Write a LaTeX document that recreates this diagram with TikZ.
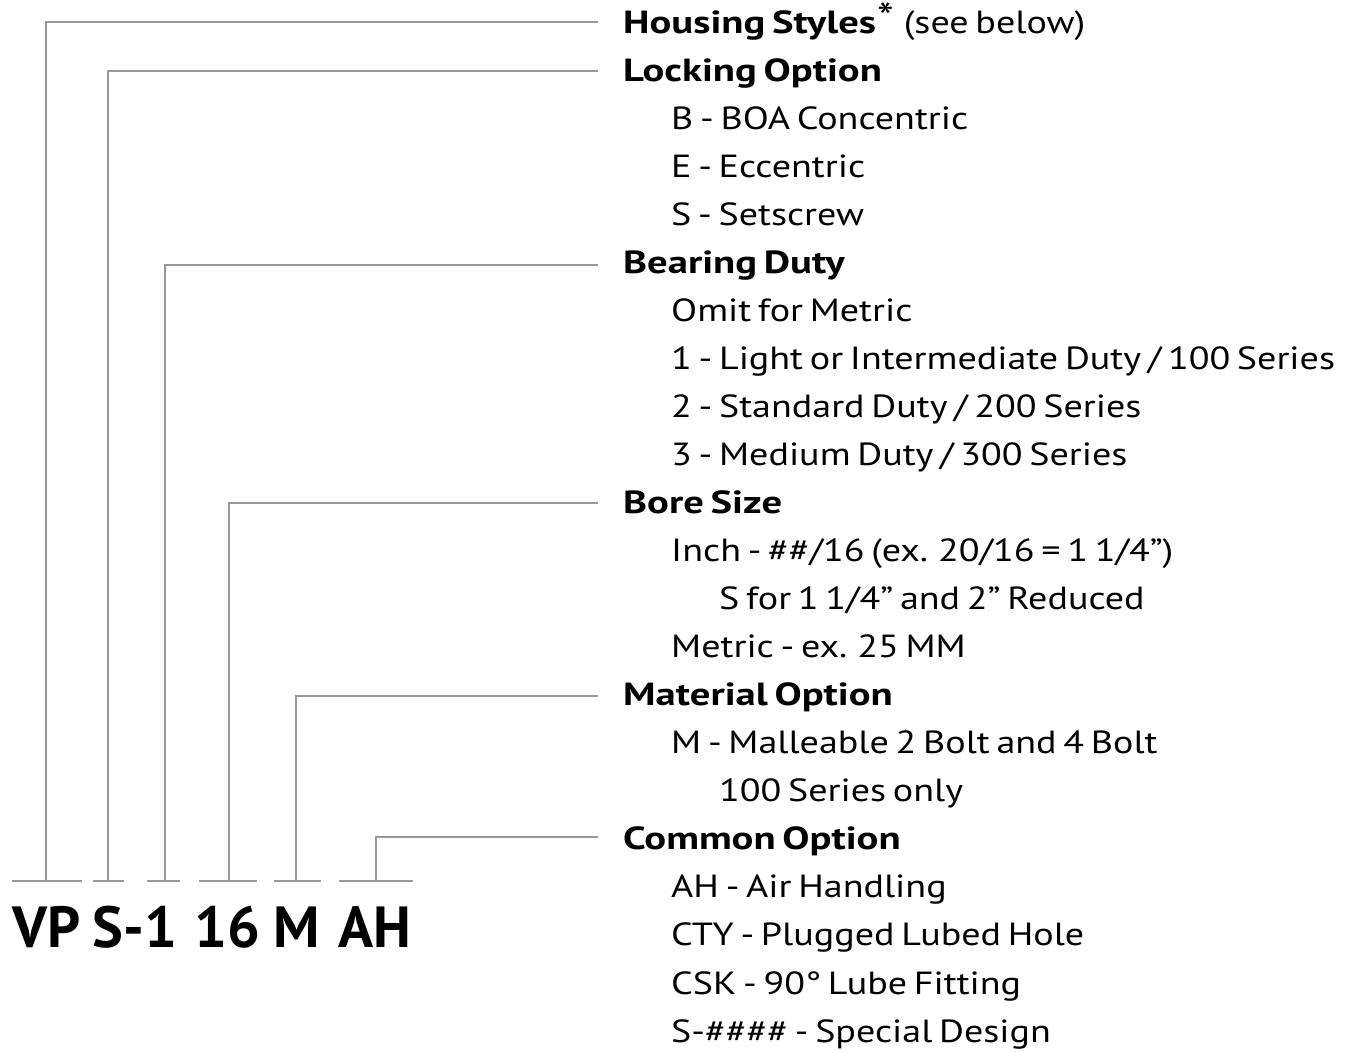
\documentclass[tikz,border=0pt]{standalone}
\usepackage{fontspec}
\setmainfont{PT Sans}[FakeStretch=1.19, WordSpace=0.66,
  BoldFeatures={FakeStretch=1.27, WordSpace=0.66}]
\newfontfamily\codefont{PT Sans}
\begin{document}
\begin{tikzpicture}[x=1pt,y=-1pt,
  conn/.style={draw=black!40, line width=2pt},
  head/.style={anchor=base west, inner sep=0pt, font=\fontsize{32}{36}\selectfont\bfseries},
  item/.style={anchor=base west, inner sep=0pt, font=\fontsize{32}{36}\selectfont},
  code/.style={anchor=base, inner sep=0pt, font=\codefont\fontsize{58}{60}\selectfont\bfseries}]
\useasboundingbox (0,0) rectangle (1351,1052);
\def\bl#1{33+48.05*#1}
% text lines
\node[head] (h1) at (623,{\bl{0}}) {Housing Styles\hspace{1pt}\raisebox{0.05em}{\fontsize{40}{40}\selectfont\mdseries *}\hspace{10pt}\mdseries(see below)};
\node[head] (h2) at (623,{\bl{1}}) {Locking Option};
\node[item] (t2) at (671,{\bl{2}}) {B - BOA Concentric};
\node[item] (t3) at (671,{\bl{3}}) {E - Eccentric};
\node[item] (t4) at (671,{\bl{4}}) {S - Setscrew};
\node[head] (h3) at (623,{\bl{5}}) {Bearing Duty};
\node[item] (t6) at (671,{\bl{6}}) {Omit for Metric};
\node[item] (t7) at (671,{\bl{7}}) {1 - Light or Intermediate Duty / 100 Series};
\node[item] (t8) at (671,{\bl{8}}) {2 - Standard Duty / 200 Series};
\node[item] (t9) at (671,{\bl{9}}) {3 - Medium Duty / 300 Series};
\node[head] (h4) at (623,{\bl{10}}) {Bore Size};
\node[item] (t11) at (671,{\bl{11}}) {Inch - \#\#/16 (ex. 20/16 = 1 1/4”)};
\node[item] (t12) at (719,{\bl{12}}) {S for 1 1/4” and 2” Reduced};
\node[item] (t13) at (671,{\bl{13}}) {Metric - ex. 25 MM};
\node[head] (h5) at (623,{\bl{14}}) {Material Option};
\node[item] (t15) at (671,{\bl{15}}) {M - Malleable 2 Bolt and 4 Bolt};
\node[item] (t16) at (719,{\bl{16}}) {100 Series only};
\node[head] (h6) at (623,{\bl{17}}) {Common Option};
\node[item] (t18) at (671,{\bl{18}}) {AH - Air Handling};
\node[item] (t19) at (671,{\bl{19}}) {CTY - Plugged Lubed Hole};
\node[item] (t20) at (671,{\bl{20}}) {CSK - 90° Lube Fitting};
\node[item] (t21) at (671,{\bl{21}}) {S-\#\#\#\# - Special Design};
% code
\node[code] (c1) at (47,947) {VP};
\node[code] (c2) at (135,947) {S-1};
\node[code] (c3) at (227,947) {16};
\node[code] (c4) at (297,947) {M};
\node[code] (c5) at (375,947) {AH};
% tick tops
\coordinate (k1) at (46,881);
\coordinate (k2) at (108,881);
\coordinate (k3) at (165,881);
\coordinate (k4) at (229,881);
\coordinate (k5) at (296,881);
\coordinate (k6) at (376,881);
% underline segments
\draw[conn] (12,881) -- (82,881);
\draw[conn] (93,881) -- (124,881);
\draw[conn] (147,881) -- (180,881);
\draw[conn] (199,881) -- (257,881);
\draw[conn] (274,881) -- (321,881);
\draw[conn] (339,881) -- (413,881);
% connectors
\draw[conn] (598,22) -| (k1);
\draw[conn] (598,71) -| (k2);
\draw[conn] (598,265) -| (k3);
\draw[conn] (598,503) -| (k4);
\draw[conn] (598,696) -| (k5);
\draw[conn] (598,837) -| (k6);
\end{tikzpicture}
\end{document}
